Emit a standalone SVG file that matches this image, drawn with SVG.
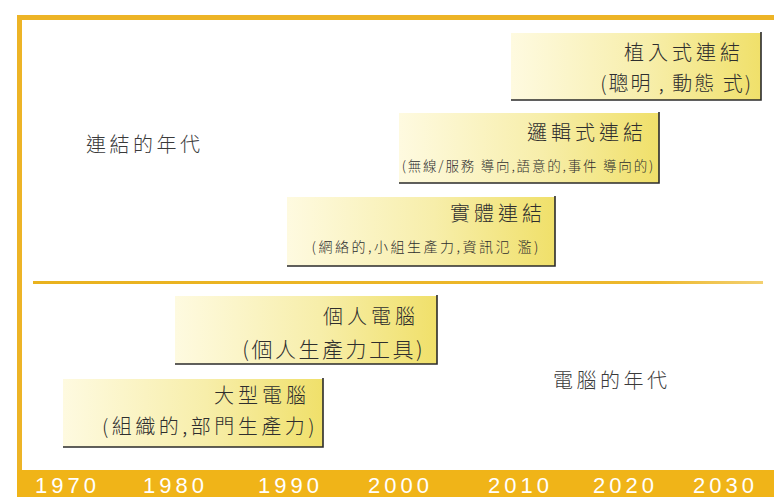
<svg xmlns="http://www.w3.org/2000/svg" width="774" height="497" viewBox="0 0 774 497">
<defs>
<linearGradient id="boxfill" x1="0" y1="0" x2="1" y2="0">
<stop offset="0" stop-color="#FEFAE0"/>
<stop offset="0.55" stop-color="#F7EEAA"/>
<stop offset="1" stop-color="#F0E06A"/>
</linearGradient>
<linearGradient id="divider" x1="0" y1="0" x2="1" y2="0">
<stop offset="0" stop-color="#E9B21E"/>
<stop offset="0.85" stop-color="#EDB82C"/>
<stop offset="1" stop-color="#F3D070"/>
</linearGradient>
<style>
.box{fill:url(#boxfill);}
.edge{stroke:#2b2b2b;stroke-width:1.6;fill:none;}
.t{font-family:"Noto Sans CJK TC","Noto Sans CJK SC",sans-serif;font-weight:300;fill:#2e2e2e;text-anchor:end;}
.title{font-size:20px;letter-spacing:4px;}
.lbl{font-family:"Noto Sans CJK TC","Noto Sans CJK SC",sans-serif;font-weight:300;fill:#3a3a3a;font-size:20px;letter-spacing:3.5px;}
.yr{font-family:"Liberation Sans",Arial,sans-serif;fill:#ffffff;font-size:22px;letter-spacing:4px;}
</style>
</defs>
<rect x="0" y="0" width="774" height="497" fill="#ffffff"/>
<g id="frame">
<rect x="17" y="15" width="757" height="5" fill="#EDB426"/>
<rect x="17" y="15" width="5" height="482" fill="#EDB426"/>
<rect x="17" y="470" width="757" height="27" fill="#F0B418"/>
</g>
<g id="connectors">
<rect x="33" y="281" width="730" height="3" fill="url(#divider)"/>
</g>
<g id="label-connected">
<text class="lbl" x="86" y="152">連結的年代</text>
</g>
<g id="label-computer">
<text class="lbl" x="553" y="388">電腦的年代</text>
</g>
<g id="embedded">
<rect class="box" x="511" y="33" width="250" height="67"/>
<path class="edge" d="M511 100 H761 V32"/>
<text class="t title" x="744" y="60">植入式連結</text>
<text class="t" x="753" y="91" font-size="20" letter-spacing="2">(聰明 , 動態 式)</text>
</g>
<g id="logical">
<rect class="box" x="399" y="113" width="260" height="70"/>
<path class="edge" d="M399 183 H659 V112"/>
<text class="t title" x="647" y="140">邏輯式連結</text>
<text class="t" x="655" y="171" font-size="13.5" letter-spacing="1.8">(無線/服務 導向,語意的,事件 導向的)</text>
</g>
<g id="physical">
<rect class="box" x="287" y="197" width="268" height="69"/>
<path class="edge" d="M287 266 H555 V196"/>
<text class="t title" x="546" y="221">實體連結</text>
<text class="t" x="541" y="252" font-size="14" letter-spacing="2.5">(網絡的,小組生產力,資訊氾 濫)</text>
</g>
<g id="pc">
<rect class="box" x="175" y="296" width="262" height="68"/>
<path class="edge" d="M175 364 H437 V295"/>
<text class="t title" x="419" y="324" font-size="21">個人電腦</text>
<text class="t" x="425" y="357" font-size="21" letter-spacing="2.5">(個人生產力工具)</text>
</g>
<g id="mainframe">
<rect class="box" x="63" y="379" width="260" height="68"/>
<path class="edge" d="M63 447 H323 V378"/>
<text class="t title" x="310" y="403">大型電腦</text>
<text class="t" x="318" y="434" font-size="20" letter-spacing="3.5">(組織的,部門生產力)</text>
</g>
<g id="years">
<text class="yr" x="35" y="493">1970</text>
<text class="yr" x="143" y="493">1980</text>
<text class="yr" x="258" y="493">1990</text>
<text class="yr" x="368" y="493">2000</text>
<text class="yr" x="488" y="493">2010</text>
<text class="yr" x="593" y="493">2020</text>
<text class="yr" x="693" y="493">2030</text>
</g>
</svg>
